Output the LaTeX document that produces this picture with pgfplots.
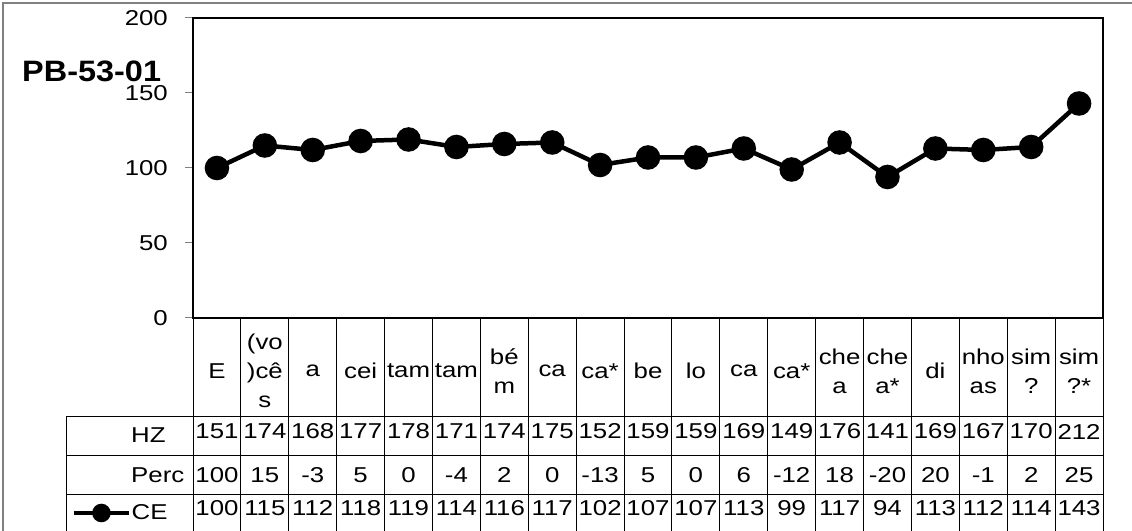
\documentclass[border=0pt]{standalone}
\usepackage{fontspec}
\setmainfont[FakeStretch=1.2]{Liberation Sans}
\newfontfamily\titlefont[FakeStretch=1.1]{Liberation Sans}
\usepackage{pgfplots}
\usepackage{pgfplotstable}
\pgfplotsset{compat=1.18}
\pgfplotstableread{
x hz perc ce
0 151 100 100
1 174 15 115
2 168 -3 112
3 177 5 118
4 178 0 119
5 171 -4 114
6 174 2 116
7 175 0 117
8 152 -13 102
9 159 5 107
10 159 0 107
11 169 6 113
12 149 -12 99
13 176 18 117
14 141 -20 94
15 169 20 113
16 167 -1 112
17 170 2 114
18 212 25 143
}\data
\newcommand{\tf}{\fontsize{21.5bp}{29bp}\selectfont}
\begin{document}
\begin{tikzpicture}[x=1bp,y=1bp]
\useasboundingbox (0,0) rectangle (1132,531);
\draw[gray, line width=1.5bp] (3,0) -- (3,528) -- (1132,528);
% table grid
\foreach \k in {0,...,19} {
  \draw[black, line width=1bp] ({193+47.895*\k},213) -- ({193+47.895*\k},0);
}
\draw[black, line width=1bp] (66,114) -- (66,0);
\foreach \yy in {114,75,36.7} {
  \draw[black, line width=1bp] (66,\yy) -- (1103,\yy);
}
\node[font=\titlefont\fontsize{29.5bp}{33bp}\selectfont\bfseries, anchor=west, inner sep=0pt] at (22,460) {PB-53-01};
\begin{axis}[
  at={(193bp,213bp)}, anchor=south west,
  scale only axis, width=910bp, height=300bp,
  xmin=-0.5, xmax=18.5, ymin=0, ymax=200,
  ytick={0,50,100,150,200},
  xtick={0,...,18},
  xticklabels={E,{(vo\\)cê\\s},a,cei,tam,tam,{bé\\m},ca,ca*,be,lo,ca,ca*,{che\\a},{che\\a*},di,{nho\\as},{sim\\?},{sim\\?*}},
  xtick style={draw=none},
  ytick pos=left, tick align=outside, major tick length=8bp,
  ytick style={gray, line width=1bp},
  axis line style={black, line width=1.5bp},
  clip=false,
  /pgf/number format/assume math mode=true,
  ticklabel style={font=\tf},
  yticklabel style={anchor=east, inner sep=0pt, xshift=-17bp},
  xticklabel style={align=center, anchor=center, inner sep=0pt, yshift=-45bp},
  legend style={at={(axis description cs:-0.133,-0.65)}, anchor=west, draw=none, fill=none, inner sep=0pt, font=\tf, nodes={inner sep=1bp}},
  legend cell align=left,
  legend image code/.code={\draw[mark repeat=2, mark phase=2, line width=3.5bp, mark size=7.5bp] plot coordinates {(0bp,0bp) (27.5bp,0bp) (55bp,0bp)};},
]
\addplot[black, line width=4.5bp, mark=*, mark size=10bp] table[x=x, y=ce] {\data};
\addlegendentry{CE}
\addplot[forget plot, draw=none, mark=none, nodes near coords, point meta=explicit symbolic, nodes near coords align={center}, every node near coord/.append style={inner sep=0pt, font=\tf}] table[x=x, y expr=-75.7, meta=hz] {\data};
\addplot[forget plot, draw=none, mark=none, nodes near coords, point meta=explicit symbolic, nodes near coords align={center}, every node near coord/.append style={inner sep=0pt, font=\tf}] table[x=x, y expr=-104.7, meta=perc] {\data};
\addplot[forget plot, draw=none, mark=none, nodes near coords, point meta=explicit symbolic, nodes near coords align={center}, every node near coord/.append style={inner sep=0pt, font=\tf}] table[x=x, y expr=-127, meta=ce] {\data};
\end{axis}
\node[font=\tf, anchor=west, inner sep=0pt] at (131,95.5) {HZ};
\node[font=\tf, anchor=west, inner sep=0pt] at (131,56) {Perc};
\end{tikzpicture}
\end{document}
